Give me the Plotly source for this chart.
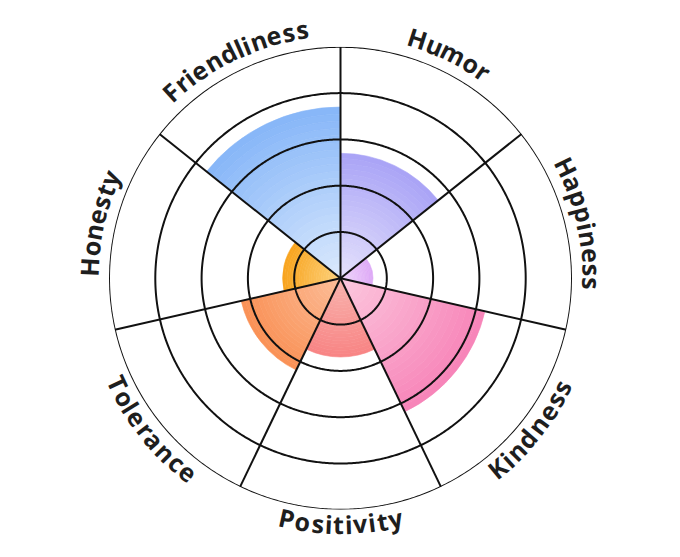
import numpy as np
import plotly.graph_objects as go

categories = ["Humor", "Happiness", "Kindness", "Positivity", "Tolerance", "Honesty", "Friendliness"]
values = [2.7, 0.7, 3.2, 1.7, 2.2, 1.25, 3.7]
inner_colors = ["#e6e3fc", "#f0d8fb", "#fcc8de", "#f8b4ae", "#fbbd98", "#fcd27e", "#dceafd"]
outer_colors = ["#a9a3f6", "#dda8f6", "#f784b8", "#f88484", "#fa9156", "#f9a41e", "#86b6f8"]
ring_values = [1, 2, 3, 4, 5]

n = len(categories)
step = 360.0 / n
centers = [step * (i + 0.5) for i in range(n)]
bounds = [step * i for i in range(n)]

# body margin of the page is 8px, so the figure starts at (8, 8)
W, H = 664, 541
cx, cy_top, R = 332.5, 270.3, 231.5
cy = H - cy_top


def hex2rgb(h):
    h = h.lstrip("#")
    return np.array([int(h[i:i + 2], 16) for i in (0, 2, 4)], dtype=float)


def mix(a, b, t):
    c = hex2rgb(a) * (1 - t) + hex2rgb(b) * t
    return "rgb(%d,%d,%d)" % tuple(np.round(c).astype(int))


fig = go.Figure()

# bars with a radial colour gradient (drawn as stacked slices of each bar)
NSEG = 24
for k in range(NSEG):
    t = (k + 0.5) / NSEG
    seg_cols = [mix(a, b, t) for a, b in zip(inner_colors, outer_colors)]
    fig.add_trace(go.Barpolar(
        r=[v / NSEG for v in values],
        base=[v * k / NSEG for v in values],
        theta=centers, width=[step] * n,
        marker=dict(color=seg_cols, line=dict(color=seg_cols, width=0.6)),
        hoverinfo="skip", showlegend=False,
    ))

# grid drawn above the bars
circ = np.linspace(0, 360, 721)
for rv in ring_values:
    fig.add_trace(go.Scatterpolar(
        r=[rv] * len(circ), theta=circ, mode="lines",
        line=dict(color="#111111", width=2), hoverinfo="skip", showlegend=False,
    ))
for b in bounds:
    fig.add_trace(go.Scatterpolar(
        r=[0, ring_values[-1]], theta=[b, b], mode="lines",
        line=dict(color="#111111", width=2), hoverinfo="skip", showlegend=False,
    ))

# curved labels: one annotation per character along the arc
FS = 25
SPACING = 0.9
em = {
    "F": 0.58, "H": 0.755, "K": 0.656, "P": 0.634, "T": 0.575,
    "a": 0.596, "c": 0.514, "d": 0.635, "e": 0.604, "i": 0.293, "l": 0.293,
    "m": 0.948, "n": 0.641, "o": 0.619, "p": 0.635, "r": 0.44, "s": 0.508,
    "t": 0.447, "u": 0.641, "v": 0.562, "y": 0.562,
}
annotations = []
for cat, th in zip(categories, centers):
    bottom = 90 < th < 270
    rr = 246 if bottom else 252
    widths = [em.get(ch, 0.6) * FS + SPACING for ch in cat]
    total = sum(widths) - SPACING
    span = np.rad2deg(total / rr)
    cum = 0.0
    for ch, w in zip(cat, widths):
        off = np.rad2deg((cum + (w - SPACING) / 2) / rr)
        cum += w
        if bottom:
            a = th + span / 2 - off
            ang = a - 180
        else:
            a = th - span / 2 + off
            ang = ((a + 180) % 360) - 180
        rad = np.deg2rad(a)
        x = (cx + rr * np.sin(rad)) / W
        y = (cy + rr * np.cos(rad)) / H
        annotations.append(dict(
            x=x, y=y, xref="paper", yref="paper", text=ch, showarrow=False,
            textangle=ang, xanchor="center", yanchor="middle",
            font=dict(family="Open Sans", size=FS, color="#1e1e1e", weight=700),
        ))

fig.update_layout(
    width=W, height=H, margin=dict(l=0, r=0, t=0, b=0),
    paper_bgcolor="white", plot_bgcolor="white",
    polar=dict(
        domain=dict(x=[(cx - R) / W, (cx + R) / W], y=[(cy - R) / H, (cy + R) / H]),
        bgcolor="white",
        bargap=0,
        radialaxis=dict(visible=False, range=[0, 5]),
        angularaxis=dict(visible=False, rotation=90, direction="clockwise", thetaunit="degrees"),
    ),
    annotations=annotations,
)

fig.write_html("out.html")
